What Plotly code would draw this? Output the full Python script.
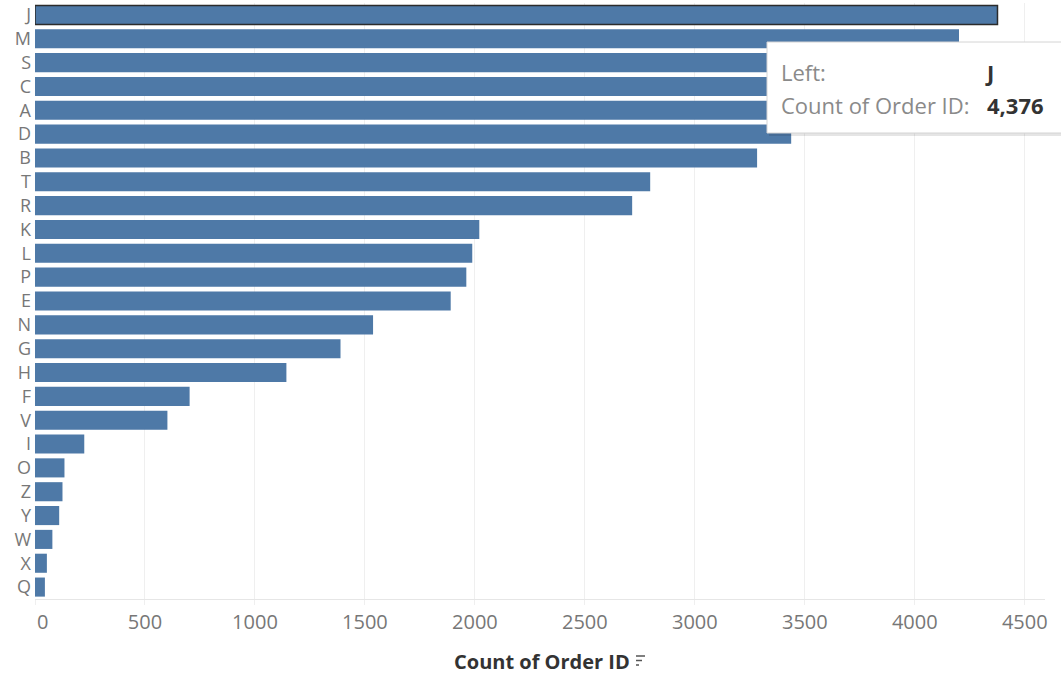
import plotly.graph_objects as go

categories = ["J", "M", "S", "C", "A", "D", "B", "T", "R", "K", "L", "P", "E",
              "N", "G", "H", "F", "V", "I", "O", "Z", "Y", "W", "X", "Q"]
counts = [4376, 4201, 3950, 3720, 3560, 3438, 3283, 2797, 2715, 2020, 1988, 1961, 1890,
          1537, 1389, 1143, 703, 602, 224, 134, 125, 110, 79, 54, 45]
x_ticks = [0, 500, 1000, 1500, 2000, 2500, 3000, 3500, 4000, 4500]
axis_title = "Count of Order ID"
tooltip_rows = [("Left:", "J"), ("Count of Order ID:", "4,376")]

W, H = 1061, 674
L, R, T, B = 35, 1045, 3, 599
pw, ph = R - L, B - T


def px(x):
    return (x - L) / pw


def py(y):
    return (B - y) / ph


line_w = [1.5 if c == "J" else 0 for c in categories]
line_c = ["#2b2b2b" if c == "J" else "#4e79a7" for c in categories]

fig = go.Figure(go.Bar(
    x=counts, y=categories, orientation="h",
    marker=dict(color="#4e79a7", line=dict(width=line_w, color=line_c)),
    hoverinfo="skip",
))

fig.update_layout(
    width=W, height=H,
    margin=dict(l=L, r=W - R, t=T, b=H - B),
    paper_bgcolor="white", plot_bgcolor="white",
    bargap=0.2, showlegend=False,
    font=dict(family="Open Sans, Roboto, sans-serif", color="#666"),
)
fig.update_yaxes(
    categoryorder="array", categoryarray=categories, autorange="reversed",
    showgrid=False, zeroline=False, showline=False, ticks="",
    tickfont=dict(size=18, color="#777", family="Open Sans, Roboto, sans-serif"),
    ticklabelstandoff=3,
)
tick_text = [("\u00a0\u00a0\u00a0" + str(v)) if v == 0 else str(v) for v in x_ticks]
fig.update_xaxes(
    range=[0, 4592], tickvals=x_ticks, ticktext=tick_text,
    showgrid=True, gridcolor="#efefef", gridwidth=1,
    zeroline=False, showline=True, linecolor="#e6e6e6", linewidth=1,
    ticks="outside", ticklen=5, tickcolor="#efefef",
    tickfont=dict(size=20, color="#777", family="Open Sans, Roboto, sans-serif"),
)

shapes = []
annotations = []
# axis title and sort icon
annotations.append(dict(xref="paper", yref="paper", x=px(542), y=py(661),
                        text="<b>" + axis_title + "</b>", showarrow=False,
                        font=dict(size=20, color="#333"), xanchor="center", yanchor="middle"))
for i, ln in enumerate([9, 6, 3]):
    yy = 656 + i * 4.5
    shapes.append(dict(type="line", xref="paper", yref="paper",
                       x0=px(636), x1=px(636 + ln), y0=py(yy), y1=py(yy),
                       line=dict(color="#555", width=1.5)))

# tooltip box with shadow
shapes.append(dict(type="rect", xref="paper", yref="paper",
                   x0=px(769), x1=px(1064), y0=py(45), y1=py(136),
                   fillcolor="rgba(0,0,0,0.10)", line=dict(width=0)))
shapes.append(dict(type="rect", xref="paper", yref="paper",
                   x0=px(767), x1=px(1062), y0=py(42), y1=py(133),
                   fillcolor="white", line=dict(color="#d4d4d4", width=1)))
row_y = [72, 105]
for (lab, val), yy in zip(tooltip_rows, row_y):
    annotations.append(dict(xref="paper", yref="paper", x=px(779), y=py(yy),
                            text=lab, showarrow=False, xanchor="left", yanchor="middle",
                            font=dict(size=22, color="#8a8a8a")))
for (lab, val), yy, xa in zip(tooltip_rows, row_y, [983, 985]):
    annotations.append(dict(xref="paper", yref="paper", x=px(xa), y=py(yy),
                            text="<b>" + val + "</b>", showarrow=False,
                            xanchor="left", yanchor="middle",
                            font=dict(size=22, color="#333")))

fig.update_layout(shapes=shapes, annotations=annotations)
fig.write_html("out.html", config={"displayModeBar": False},
               post_script="document.body.style.margin='0';")
